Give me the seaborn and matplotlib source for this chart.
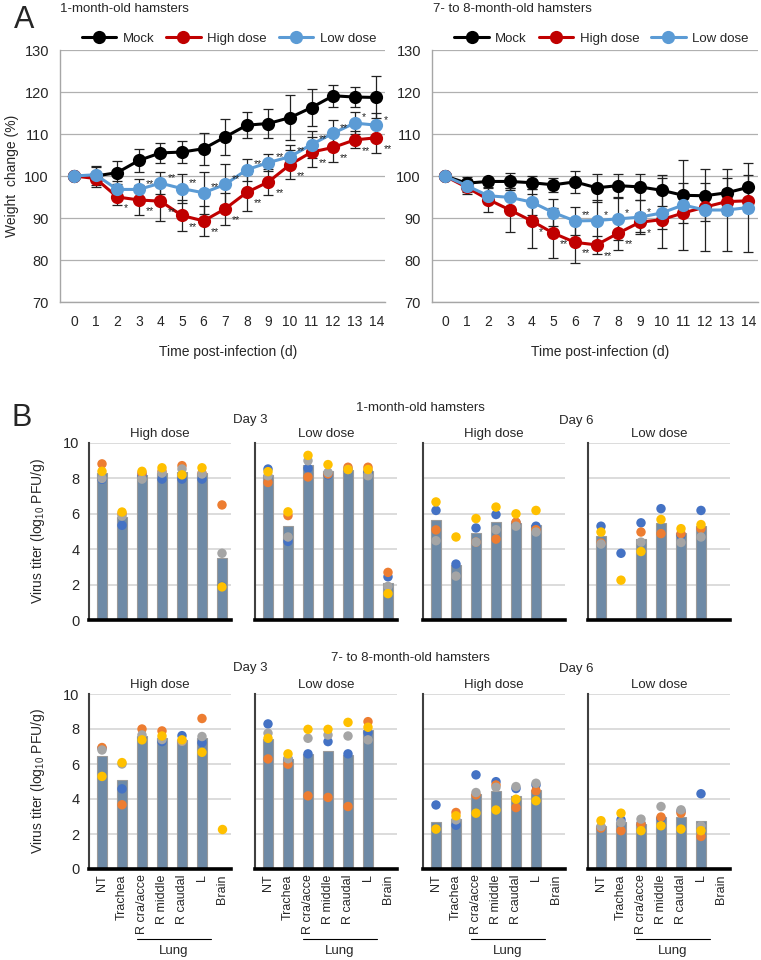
import numpy as np
import pandas as pd
import matplotlib
matplotlib.use('Agg')
import matplotlib.pyplot as plt
from matplotlib.lines import Line2D
import seaborn as sns

nan = np.nan

# ---------- A: body weight change (%) ----------
days = list(range(15))

young_mock = [100, 100.0, 100.8, 103.7, 105.5, 105.7, 106.5, 109.3, 112.1, 112.5, 113.9, 116.3, 119.1, 118.8, 118.7]
young_mock_sd = [0, 2.5, 2.8, 2.7, 2.4, 2.6, 3.8, 4.3, 3.1, 3.4, 5.3, 4.3, 2.6, 2.4, 5.0]
young_high = [100, 99.4, 95.0, 94.3, 94.0, 90.6, 89.3, 92.2, 96.1, 98.6, 102.7, 105.7, 106.8, 108.6, 109.1]
young_high_sd = [0, 1.5, 2.0, 3.6, 4.7, 3.8, 3.5, 3.8, 4.4, 3.1, 3.4, 3.5, 3.5, 2.0, 3.6]
young_low = [100, 100.3, 96.8, 96.8, 98.3, 97.0, 96.0, 98.0, 101.5, 103.2, 104.6, 107.5, 110.2, 112.6, 112.1]
young_low_sd = [0, 1.8, 2.0, 2.4, 2.6, 3.4, 5.0, 4.8, 2.6, 2.0, 2.8, 3.3, 3.1, 2.6, 3.0]
young_high_sig = ['', '', '*', '**', '**', '**', '**', '**', '**', '**', '**', '**', '**', '**', '**']
young_low_sig = ['', '', '', '**', '**', '**', '**', '**', '**', '**', '**', '**', '**', '*', '*']

old_mock = [100, 98.3, 98.7, 98.7, 98.4, 97.9, 98.6, 97.2, 97.7, 97.4, 96.6, 95.4, 95.3, 96.0, 97.3]
old_mock_sd = [0, 1.5, 0.9, 2.0, 1.6, 1.7, 2.6, 3.3, 2.8, 3.0, 3.7, 3.0, 3.0, 3.5, 3.0]
old_high = [100, 97.3, 94.4, 91.9, 89.3, 86.4, 84.2, 83.6, 86.4, 89.0, 89.6, 91.2, 92.6, 93.9, 94.1]
old_high_sd = [0, 1.5, 3.0, 5.3, 6.5, 6.0, 5.0, 2.1, 4.0, 2.3, 2.3, 2.3, 3.2, 3.0, 2.5]
old_low = [100, 97.7, 95.3, 94.9, 93.8, 91.3, 89.3, 89.4, 89.8, 90.2, 91.2, 93.1, 91.9, 91.9, 92.5]
old_low_sd = [0, 1.5, 1.8, 2.3, 3.0, 3.2, 3.3, 4.8, 5.0, 4.0, 8.3, 10.6, 9.7, 9.7, 10.6]
old_high_sig = ['', '', '', '', '*', '**', '**', '**', '**', '*', '', '', '', '', '']
old_low_sig = ['', '', '', '', '', '', '**', '*', '*', '*', '', '', '', '', '']

groups = ['Mock', 'High dose', 'Low dose']
group_colors = ['#000000', '#C00000', '#5B9BD5']

# ---------- B: virus titers (log10 PFU/g) ----------
tissues = ['NT', 'Trachea', 'R cra/acce', 'R middle', 'R caudal', 'L', 'Brain']

# 1-month-old, day 3, high dose
y_d3h_bar = [8.3, 5.8, 8.2, 8.3, 8.35, 8.3, 3.5]
y_d3h_m1 = [7.95, 5.35, 8.2, 7.96, 7.96, 7.96, 1.9]
y_d3h_m2 = [8.82, 6.0, 8.3, 8.4, 8.72, 8.3, 6.5]
y_d3h_m3 = [8.0, 5.87, 7.96, 8.3, 8.53, 8.25, 3.77]
y_d3h_m4 = [8.4, 6.1, 8.4, 8.6, 8.2, 8.6, 1.87]
# 1-month-old, day 3, low dose
y_d3l_bar = [8.2, 5.3, 8.74, 8.4, 8.5, 8.4, 2.11]
y_d3l_m1 = [8.53, 4.44, 8.57, 8.2, 8.5, 8.4, 2.44]
y_d3l_m2 = [7.77, 5.9, 8.08, 8.25, 8.63, 8.63, 2.69]
y_d3l_m3 = [8.15, 4.69, 9.0, 8.34, 8.5, 8.15, 1.9]
y_d3l_m4 = [8.38, 6.11, 9.3, 8.78, 8.5, 8.5, 1.49]
# 1-month-old, day 6, high dose
y_d6h_bar = [5.64, 3.08, 4.9, 5.52, 5.5, 5.35, nan]
y_d6h_m1 = [6.19, 3.16, 5.2, 5.96, 5.5, 5.3, nan]
y_d6h_m2 = [5.09, nan, 4.4, 4.57, 5.52, 5.1, nan]
y_d6h_m3 = [4.48, 2.48, 4.4, 5.1, 5.3, 4.97, nan]
y_d6h_m4 = [6.67, 4.69, 5.73, 6.38, 6.0, 6.19, nan]
# 1-month-old, day 6, low dose
y_d6l_bar = [4.72, nan, 4.59, 5.49, 4.9, 5.3, nan]
y_d6l_m1 = [5.3, 3.77, 5.49, 6.29, 4.8, 6.19, nan]
y_d6l_m2 = [4.35, nan, 4.97, 4.88, 4.88, 5.16, nan]
y_d6l_m3 = [4.29, nan, 4.4, nan, 4.38, 4.69, nan]
y_d6l_m4 = [4.97, 2.25, 3.87, 5.68, 5.16, 5.39, nan]

# 7- to 8-month-old, day 3, high dose
o_d3h_bar = [6.46, 5.1, 7.6, 7.5, 7.4, 7.5, nan]
o_d3h_m1 = [6.9, 4.58, 7.4, 7.28, 7.62, 7.22, nan]
o_d3h_m2 = [6.94, 3.67, 8.0, 7.89, 7.3, 8.6, nan]
o_d3h_m3 = [6.8, 6.0, 7.66, 7.4, 7.3, 7.57, nan]
o_d3h_m4 = [5.29, 6.08, 7.38, 7.6, 7.38, 6.67, 2.28]
# 7- to 8-month-old, day 3, low dose
o_d3l_bar = [7.45, 6.29, 6.55, 6.75, 6.52, 7.93, nan]
o_d3l_m1 = [8.29, 6.3, 6.58, 7.28, 6.58, 7.8, nan]
o_d3l_m2 = [6.29, 5.99, 4.18, 4.09, 3.57, 8.42, nan]
o_d3l_m3 = [7.76, 6.3, 7.47, 7.66, 7.6, 7.38, nan]
o_d3l_m4 = [7.47, 6.58, 7.98, 7.98, 8.38, 8.1, nan]
# 7- to 8-month-old, day 6, high dose
o_d6h_bar = [2.68, 2.87, 4.3, 4.46, 4.2, 4.5, nan]
o_d6h_m1 = [3.66, 2.5, 5.38, 4.99, 4.6, 4.8, nan]
o_d6h_m2 = [nan, 3.23, 4.24, 4.8, 3.51, 4.47, nan]
o_d6h_m3 = [nan, 2.81, 4.37, 4.67, 4.71, 4.9, nan]
o_d6h_m4 = [2.28, 3.04, 3.19, 3.37, 3.99, 3.9, nan]
# 7- to 8-month-old, day 6, low dose
o_d6l_bar = [2.45, 2.7, 2.55, 2.98, 3.0, 2.72, nan]
o_d6l_m1 = [2.4, 2.81, 2.6, 2.9, 3.3, 4.3, nan]
o_d6l_m2 = [2.34, 2.19, 2.57, 2.97, 3.19, 1.86, nan]
o_d6l_m3 = [2.43, 2.66, 2.85, 3.57, 3.38, 2.47, nan]
o_d6l_m4 = [2.76, 3.19, 2.19, 2.47, 2.28, 2.19, nan]

mouse_colors = ['#4472C4', '#ED7D31', '#A5A5A5', '#FFC000']
bar_color = '#6E8AA6'

# ---------- style ----------
sns.set_style('white')
plt.rcParams['font.family'] = ['Liberation Sans', 'DejaVu Sans']
plt.rcParams['mathtext.default'] = 'regular'

W, H = 761, 960
fig = plt.figure(figsize=(7.61, 9.6), dpi=100)


def box(x0, y0, x1, y1):
    # pixel box -> figure fraction
    return [x0 / W, 1 - y1 / H, (x1 - x0) / W, (y1 - y0) / H]


def weight_panel(ax, series, sds, sigs_high, sigs_low):
    long = pd.DataFrame({
        'day': days * 3,
        'weight': series[0] + series[1] + series[2],
        'group': np.repeat(groups, len(days)),
    })
    for vals, sd in zip(series, sds):
        ax.errorbar(days, vals, yerr=sd, fmt='none', ecolor='#222222', elinewidth=0.9,
                    capsize=3.5, capthick=0.9, zorder=2)
    sns.lineplot(data=long, x='day', y='weight', hue='group', palette=group_colors,
                 hue_order=groups, marker='o', markersize=9.5, markeredgewidth=0,
                 linewidth=2.2, legend=False, ax=ax, zorder=3)
    for d, s in zip(days, sigs_high):
        if s:
            ax.annotate(s, (d, series[1][d]), xytext=(5, -8), textcoords='offset points',
                        fontsize=7.5, ha='left', va='center')
    for d, s in zip(days, sigs_low):
        if s:
            ax.annotate(s, (d, series[2][d]), xytext=(5, 4), textcoords='offset points',
                        fontsize=7.5, ha='left', va='center')
    ax.set_ylim(70, 130)
    ax.set_yticks(range(70, 131, 10))
    ax.set_xticks(days)
    ax.yaxis.grid(True, color='#b0b0b0', lw=0.9)
    ax.set_axisbelow(True)
    for sp in ['top', 'right']:
        ax.spines[sp].set_visible(False)
    for sp in ['left', 'bottom']:
        ax.spines[sp].set_color('#a6a6a6')
        ax.spines[sp].set_linewidth(1.0)
    ax.tick_params(axis='y', labelsize=10.5, length=4, color='#a6a6a6', pad=4)
    ax.tick_params(axis='x', labelsize=10, length=4, color='#a6a6a6', pad=5)
    ax.set_xlabel('')
    ax.set_ylabel('')
    handles = [Line2D([], [], color=c, lw=2.2, marker='o', markersize=9.5, markeredgewidth=0)
               for c in group_colors]
    ax.legend(handles, groups, ncol=3, loc='center', bbox_to_anchor=(0.52, 1.045),
              frameon=False, fontsize=9.5, handlelength=2.6, columnspacing=0.9,
              handletextpad=0.5, borderaxespad=0)


axA1 = fig.add_axes(box(60, 50, 385, 302))
weight_panel(axA1, [young_mock, young_high, young_low],
             [young_mock_sd, young_high_sd, young_low_sd], young_high_sig, young_low_sig)
axA1.set_xlim(-0.65, 14.4)
axA2 = fig.add_axes(box(432, 50, 758, 302))
weight_panel(axA2, [old_mock, old_high, old_low],
             [old_mock_sd, old_high_sd, old_low_sd], old_high_sig, old_low_sig)
axA2.set_xlim(-0.6, 14.45)

fig.text(14 / W, 1 - 20 / H, 'A', fontsize=22, va='center', ha='left')
fig.text(60 / W, 1 - 9 / H, '1-month-old hamsters', fontsize=9.5, va='center', ha='left')
fig.text(433 / W, 1 - 9 / H, '7- to 8-month-old hamsters', fontsize=9.5, va='center', ha='left')
fig.text(12 / W, 1 - 176 / H, 'Weight  change (%)', fontsize=10, rotation=90, va='center', ha='center')
fig.text(228 / W, 1 - 352 / H, 'Time post-infection (d)', fontsize=10, va='center', ha='center')
fig.text(600 / W, 1 - 352 / H, 'Time post-infection (d)', fontsize=10, va='center', ha='center')


def titer_panel(ax, bar, dots, first, bottom_row):
    sns.barplot(x=tissues, y=bar, order=tissues, color=bar_color, saturation=1,
                width=0.47, edgecolor='#9a9a9a', linewidth=0.8, errorbar=None, ax=ax, zorder=2)
    long = pd.DataFrame({
        'tissue': tissues * 4,
        'titer': dots[0] + dots[1] + dots[2] + dots[3],
        'mouse': np.repeat(['m1', 'm2', 'm3', 'm4'], len(tissues)),
    })
    sns.stripplot(data=long, x='tissue', y='titer', hue='mouse', order=tissues,
                  hue_order=['m1', 'm2', 'm3', 'm4'], palette=mouse_colors, jitter=False,
                  dodge=False, size=6.8, linewidth=0, legend=False, ax=ax, zorder=3)
    ax.set_ylim(0, 10)
    ax.set_xlim(-0.65, 6.45)
    ax.set_yticks(range(0, 11, 2))
    ax.yaxis.grid(True, color='#d9d9d9', lw=1.3)
    ax.set_axisbelow(True)
    for sp in ['top', 'right']:
        ax.spines[sp].set_visible(False)
    ax.spines['bottom'].set_color('black')
    ax.spines['bottom'].set_linewidth(2.6)
    ax.spines['bottom'].set_zorder(4)
    ax.spines['left'].set_color('#404040')
    ax.spines['left'].set_linewidth(1.5)
    ax.tick_params(axis='y', length=4, width=1.2, color='#404040', labelsize=10.5,
                   labelleft=first, pad=3)
    ax.tick_params(axis='x', length=0, labelbottom=bottom_row, labelsize=9,
                   labelrotation=90, pad=4)
    ax.set_xlabel('')
    ax.set_ylabel('')
    if bottom_row:
        for lab in ax.get_xticklabels():
            lab.set_va('top')
            lab.set_ha('center')
        trans = ax.get_xaxis_transform()
        ax.plot([1.75, 5.45], [-0.40, -0.40], color='black', lw=0.8, transform=trans,
                clip_on=False)
        ax.text(3.6, -0.47, 'Lung', transform=trans, ha='center', va='center', fontsize=9.5)


lefts = [89, 255, 423, 588]
row1 = [(y_d3h_bar, [y_d3h_m1, y_d3h_m2, y_d3h_m3, y_d3h_m4]),
        (y_d3l_bar, [y_d3l_m1, y_d3l_m2, y_d3l_m3, y_d3l_m4]),
        (y_d6h_bar, [y_d6h_m1, y_d6h_m2, y_d6h_m3, y_d6h_m4]),
        (y_d6l_bar, [y_d6l_m1, y_d6l_m2, y_d6l_m3, y_d6l_m4])]
row2 = [(o_d3h_bar, [o_d3h_m1, o_d3h_m2, o_d3h_m3, o_d3h_m4]),
        (o_d3l_bar, [o_d3l_m1, o_d3l_m2, o_d3l_m3, o_d3l_m4]),
        (o_d6h_bar, [o_d6h_m1, o_d6h_m2, o_d6h_m3, o_d6h_m4]),
        (o_d6l_bar, [o_d6l_m1, o_d6l_m2, o_d6l_m3, o_d6l_m4])]
doses = ['High dose', 'Low dose', 'High dose', 'Low dose']

for (top, bot, data, bottom_row) in [(443, 620, row1, False), (694, 869, row2, True)]:
    for i, (x0, (bar, dots)) in enumerate(zip(lefts, data)):
        ax = fig.add_axes(box(x0, top, x0 + 142, bot))
        titer_panel(ax, bar, dots, i == 0, bottom_row)
        fig.text((x0 + 71) / W, 1 - (top - 9) / H, doses[i], fontsize=9.5,
                 ha='center', va='center')
    fig.text(38 / W, 1 - (top + bot) / 2 / H, 'Virus titer (log$_{10}$ PFU/g)', fontsize=10,
             rotation=90, ha='center', va='center')

fig.text(12 / W, 1 - 418 / H, 'B', fontsize=22, va='center', ha='left')
fig.text(420 / W, 1 - 408 / H, '1-month-old hamsters', fontsize=9.5, ha='center', va='center')
fig.text(250 / W, 1 - 420 / H, 'Day 3', fontsize=9.5, ha='center', va='center')
fig.text(576 / W, 1 - 421 / H, 'Day 6', fontsize=9.5, ha='center', va='center')
fig.text(410 / W, 1 - 658 / H, '7- to 8-month-old hamsters', fontsize=9.5, ha='center', va='center')
fig.text(250 / W, 1 - 668 / H, 'Day 3', fontsize=9.5, ha='center', va='center')
fig.text(576 / W, 1 - 669 / H, 'Day 6', fontsize=9.5, ha='center', va='center')

fig.savefig('out.png', dpi=100)
